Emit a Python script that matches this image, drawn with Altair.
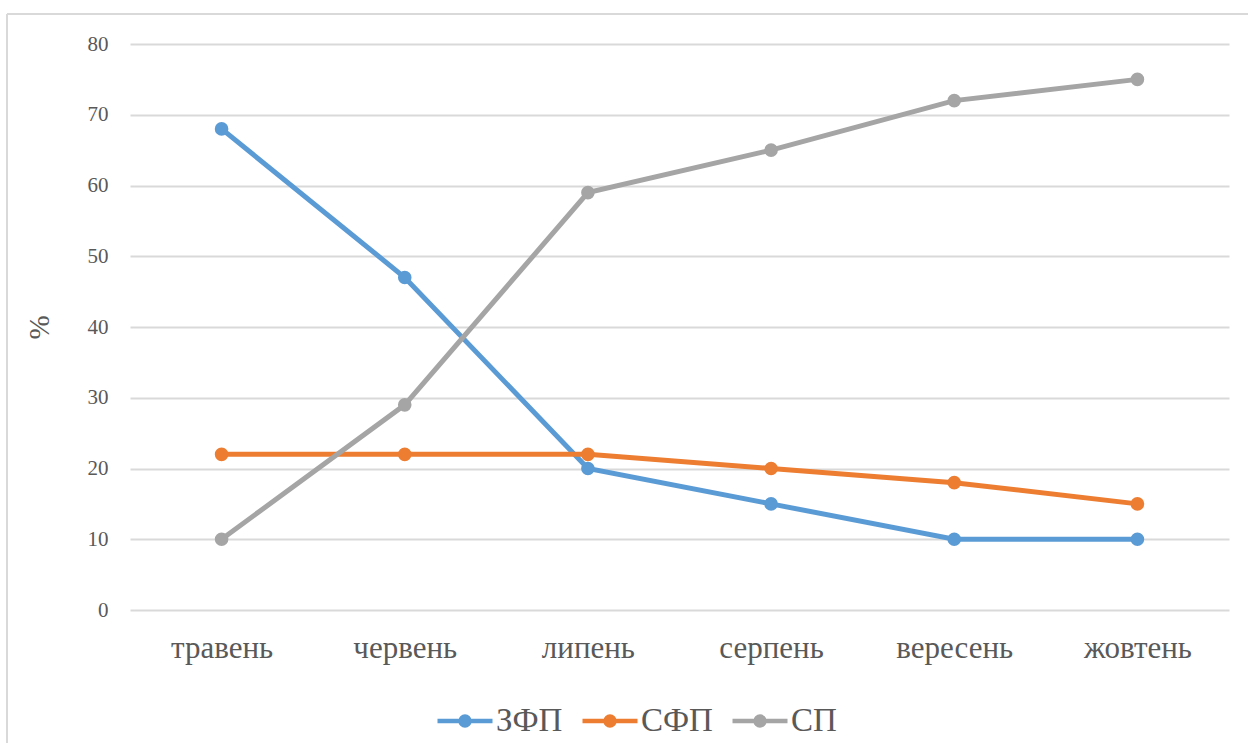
import altair as alt
import pandas as pd

months = ["травень", "червень", "липень", "серпень", "вересень", "жовтень"]
series_names = ["ЗФП", "СФП", "СП"]
zfp = [68, 47, 20, 15, 10, 10]
sfp = [22, 22, 22, 20, 18, 15]
sp = [10, 29, 59, 65, 72, 75]
colors = ["#5B9BD5", "#ED7D31", "#A5A5A5"]
y_ticks = [0, 10, 20, 30, 40, 50, 60, 70, 80]

rows = []
for name, vals in zip(series_names, [zfp, sfp, sp]):
    for m, v in zip(months, vals):
        rows.append({"month": m, "series": name, "value": v})
df = pd.DataFrame(rows)

FONT = "Liberation Serif"
TXT = "#595959"
GRID = "#D9D9D9"


def ring(r):
    return f"M-{r},0 A{r},{r} 0 1,1 {r},0 A{r},{r} 0 1,1 -{r},0"


# line with a solid marker in the middle (concentric stroked rings fill the dot)
legend_symbol = "M-1,0 L1,0 " + ring(0.16) + " " + ring(0.07)

lines = alt.Chart(df).mark_line(
    strokeWidth=5,
    point=alt.OverlayMarkDef(filled=True, size=185, opacity=1),
).encode(
    x=alt.X("month:N", sort=months, title=None,
            scale=alt.Scale(type="point", padding=0.5),
            axis=alt.Axis(labelAngle=0, ticks=False, domain=False,
                          labelFont=FONT, labelFontSize=31, labelColor=TXT,
                          labelPadding=23, grid=False)),
    y=alt.Y("value:Q", title="%",
            scale=alt.Scale(domain=[0, 80], nice=False),
            axis=alt.Axis(values=y_ticks, ticks=False, domain=False,
                          labelFont=FONT, labelFontSize=21, labelColor=TXT,
                          labelPadding=22, gridColor=GRID, gridWidth=2,
                          titleFont=FONT, titleFontSize=29, titleColor=TXT,
                          titleFontWeight="normal", titlePadding=33)),
    color=alt.Color("series:N", sort=series_names,
                    scale=alt.Scale(domain=series_names, range=colors),
                    legend=alt.Legend(orient="none", direction="horizontal",
                                      legendX=305, legendY=647, title=None,
                                      symbolType=legend_symbol, symbolSize=3025,
                                      symbolStrokeWidth=4.5, symbolOpacity=1,
                                      labelFont=FONT, labelFontSize=33,
                                      labelColor=TXT, labelOffset=1,
                                      columnPadding=10)),
    order=alt.Order("month_idx:Q"),
).transform_calculate(
    month_idx="indexof(" + str(months) + ", datum.month)"
)

# outer chart frame
frame_left = alt.Chart(df).mark_rule(color=GRID, strokeWidth=2).encode(
    x=alt.value(-123), y=alt.value(-30), y2=alt.value(720))
frame_top = alt.Chart(df).mark_rule(color=GRID, strokeWidth=2).encode(
    x=alt.value(-123), x2=alt.value(1140), y=alt.value(-30))

chart = alt.layer(frame_left, frame_top, lines).properties(
    width=1099, height=566,
    padding={"left": 130, "top": 44, "right": 19, "bottom": 133},
    autosize=alt.AutoSizeParams(type="none"),
    background="white",
).configure_view(stroke=None)

chart.save("out.html", embed_options={"renderer": "svg", "actions": False})
